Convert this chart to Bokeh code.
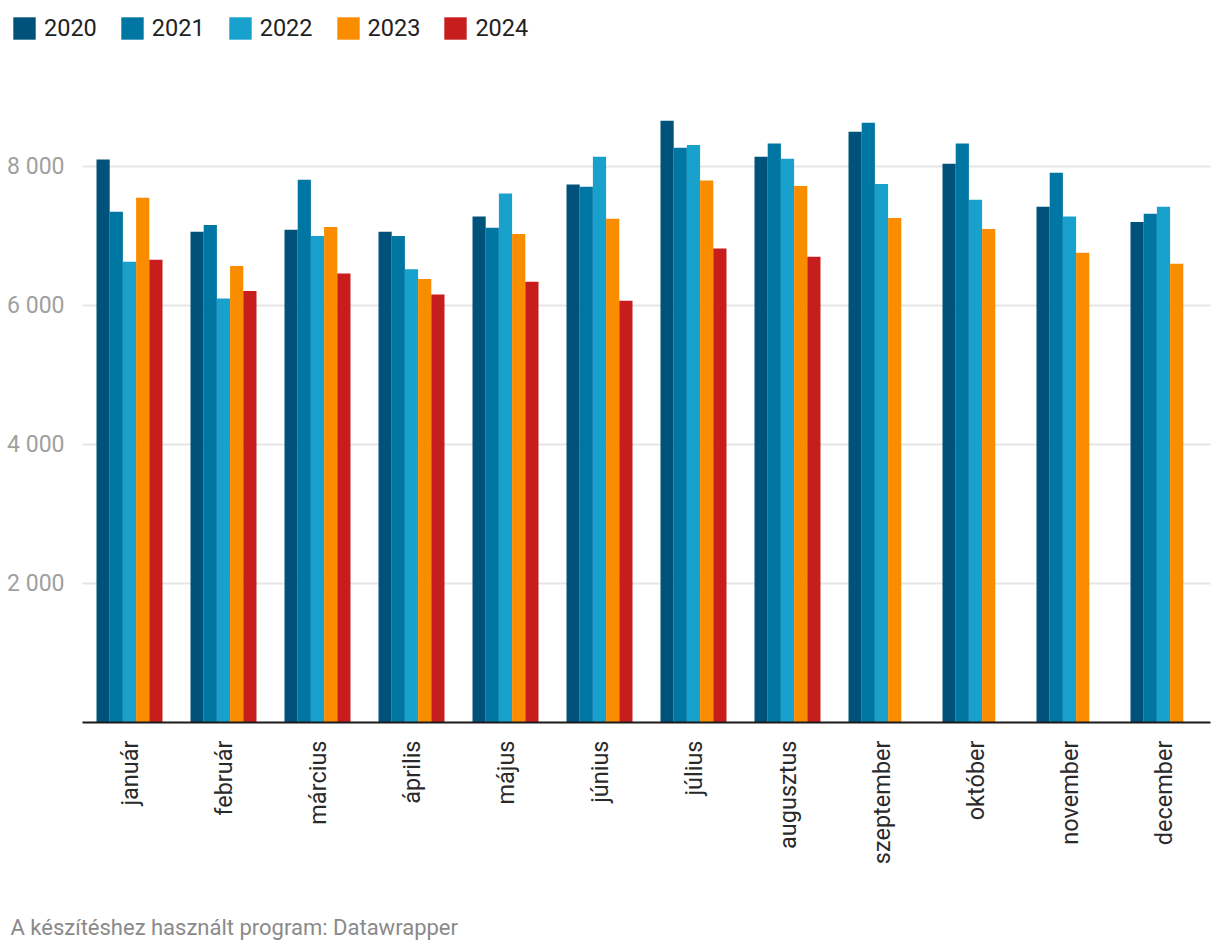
import math
from bokeh.plotting import figure
from bokeh.models import (ColumnDataSource, Range1d, FixedTicker, Legend, LegendItem, Label)
from bokeh.transform import dodge
from bokeh.embed import file_html
from bokeh.resources import INLINE

nan = float("nan")
months = ["január", "február", "március", "április", "május", "június",
          "július", "augusztus", "szeptember", "október", "november", "december"]
years = ["2020", "2021", "2022", "2023", "2024"]
v2020 = [8100, 7060, 7090, 7060, 7280, 7740, 8660, 8140, 8500, 8040, 7420, 7200]
v2021 = [7350, 7160, 7810, 7000, 7120, 7710, 8270, 8330, 8630, 8330, 7910, 7320]
v2022 = [6630, 6100, 7000, 6520, 7610, 8140, 8310, 8110, 7750, 7520, 7280, 7420]
v2023 = [7550, 6570, 7130, 6380, 7030, 7250, 7800, 7720, 7260, 7100, 6760, 6600]
v2024 = [6660, 6210, 6460, 6160, 6340, 6070, 6820, 6700, nan, nan, nan, nan]
colors = ["#00527a", "#0077a3", "#18a1cd", "#fa8c00", "#c71e1d"]
y_ticks = [2000, 4000, 6000, 8000]
y_tick_labels = ["2 000", "4 000", "6 000", "8 000"]

idx = list(range(len(months)))
src = ColumnDataSource(dict(pos=idx, month=months, v2020=v2020, v2021=v2021, v2022=v2022,
                            v2023=v2023, v2024=v2024))

W, H = 1220, 946
# frame covers the whole canvas; category area spans x 82..1210, baseline at y 722
cat_w = 94.0
px_per_unit = 0.0695
lo, hi = -0.5, len(months) - 0.5
x_rng = Range1d(lo - 82 / cat_w, hi + 10 / cat_w)
y_rng = Range1d(-(H - 722) / px_per_unit, 722 / px_per_unit)

p = figure(width=W, height=H, x_range=x_rng, y_range=y_rng,
           output_backend="svg", toolbar_location=None,
           min_border=0, min_border_left=0, min_border_right=0, min_border_top=0,
           min_border_bottom=0)
p.outline_line_color = None
p.background_fill_color = "white"
p.border_fill_color = "white"

bw = 0.1404
renderers = []
for i, (yr, col) in enumerate(zip(years, colors)):
    r = p.vbar(x=dodge("pos", (i - 2) * bw), top="v" + yr, bottom=0,
               width=bw, source=src, fill_color=col, line_color=None)
    renderers.append(r)

p.xgrid.grid_line_color = None
p.ygrid.ticker = FixedTicker(ticks=y_ticks)
p.ygrid.grid_line_color = "#e6e6e6"
p.ygrid.grid_line_width = 2
p.ygrid.cross_bounds = (lo, hi)

p.yaxis.fixed_location = lo
p.yaxis.ticker = FixedTicker(ticks=y_ticks)
p.yaxis.major_label_overrides = {t: l for t, l in zip(y_ticks, y_tick_labels)}
p.yaxis.axis_line_color = None
p.yaxis.major_tick_line_color = None
p.yaxis.minor_tick_line_color = None
p.yaxis.major_label_text_font = "Roboto"
p.yaxis.major_label_text_font_size = "23px"
p.yaxis.major_label_text_color = "#a0a0a0"
p.yaxis.major_label_standoff = 12

p.xaxis.fixed_location = 0
p.xaxis.bounds = (lo, hi)
p.xaxis.ticker = FixedTicker(ticks=idx)
p.xaxis.major_label_overrides = {i: m for i, m in zip(idx, months)}
p.xaxis.axis_line_color = "#1a1a1a"
p.xaxis.axis_line_width = 2
p.xaxis.major_tick_line_color = None
p.xaxis.minor_tick_line_color = None
p.xaxis.major_label_orientation = math.pi / 2
p.xaxis.major_label_text_font = "Roboto"
p.xaxis.major_label_text_font_size = "23.5px"
p.xaxis.major_label_text_color = "#2a2a2a"
p.xaxis.major_label_standoff = 12

legend = Legend(items=[LegendItem(label=yr, renderers=[r]) for yr, r in zip(years, renderers)],
                orientation="horizontal", location=(10, H - 42), padding=0, margin=0,
                spacing=21, label_standoff=6, glyph_width=28, glyph_height=28,
                label_text_font="Roboto", label_text_font_size="23.5px",
                label_text_color="#222222", border_line_color=None,
                background_fill_alpha=0, label_height=28)
p.add_layout(legend, "center")

footer = Label(x=10, y=19, x_units="screen", y_units="screen",
               text="A készítéshez használt program: Datawrapper",
               text_font="Roboto", text_font_size="22px", text_color="#8a8a8a",
               text_baseline="alphabetic")
p.add_layout(footer)

open("out.html", "w").write(file_html(p, INLINE))
